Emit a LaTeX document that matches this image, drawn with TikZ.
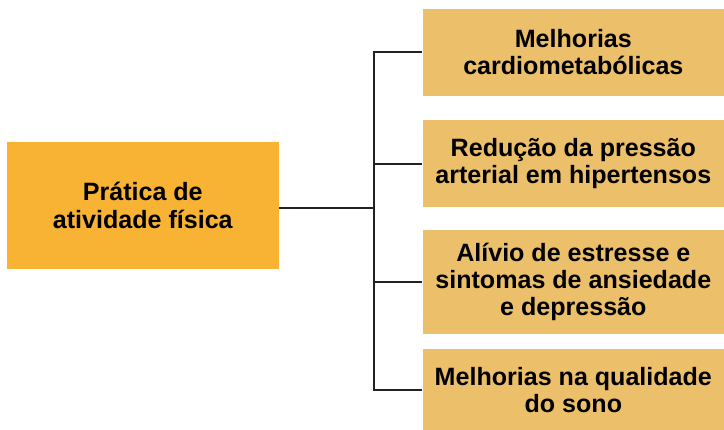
\documentclass[tikz,border=0pt]{standalone}
\usepackage{fontspec}
\setmainfont{Liberation Sans}
\usetikzlibrary{positioning}

\definecolor{mainfill}{HTML}{F8B334}
\definecolor{itemfill}{HTML}{ECBF6A}
\definecolor{linkcol}{HTML}{222222}

\begin{document}
\begin{tikzpicture}[node distance=18pt,
    box/.style={rectangle, inner sep=0pt, align=center,
      font=\fontsize{18.8}{20.4}\selectfont\bfseries},
    mainbox/.style={box, fill=mainfill, minimum width=203.8pt, minimum height=95.3pt},
    itembox/.style={box, fill=itemfill, minimum width=226pt, minimum height=65pt},
    link/.style={draw=linkcol, line width=1.5pt}]
  \useasboundingbox (0pt,0pt) rectangle (543pt,-321.75pt);

  \node[mainbox] (pratica) at (107.1pt,-154.1pt) {Prática de\\atividade física};
  \node[itembox] (cardio) at (430pt,-39.25pt) {Melhorias\\cardiometabólicas};
  \node[itembox, below=18.2pt of cardio] (pressao) {Redução da pressão\\arterial em hipertensos};
  \node[itembox, minimum height=78pt, below=16.7pt of pressao] (estresse) {Alívio de estresse e\\sintomas de ansiedade\\e depressão};
  \node[itembox, minimum height=61pt, below=11pt of estresse] (sono) {Melhorias na qualidade\\do sono};

  \coordinate (tronco) at (280.5pt,-155.7pt);

  \draw[link] (pratica.east |- tronco) -- (tronco);
  \draw[link, line cap=rect] (cardio.west -| tronco) -- (sono.west -| tronco);
  \foreach \item in {cardio,pressao,estresse,sono}
    \draw[link] (\item.west -| tronco) -- (\item.west);
\end{tikzpicture}
\end{document}
